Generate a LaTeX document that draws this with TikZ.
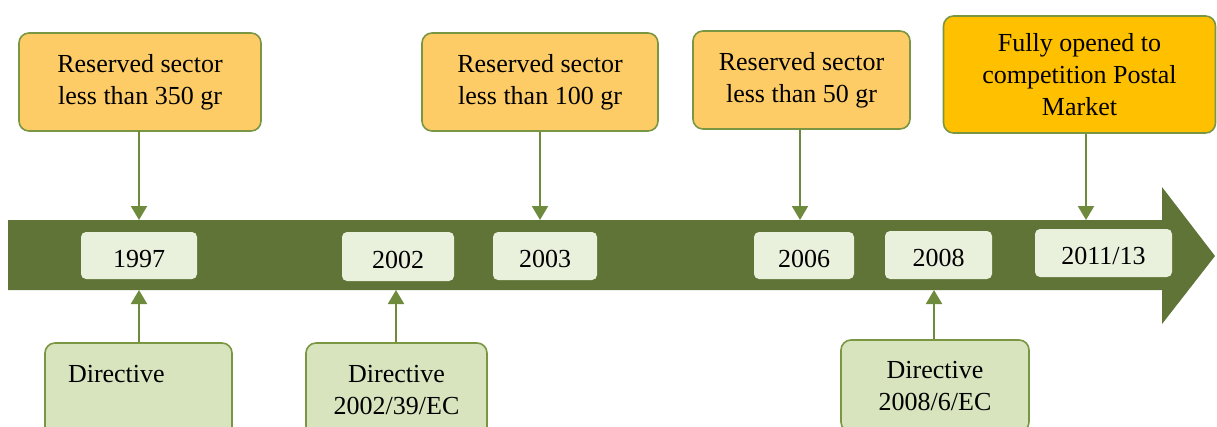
\documentclass[tikz,border=0pt]{standalone}
\usepackage{fontspec}
\setmainfont{Liberation Serif}
\usetikzlibrary{arrows.meta}
\definecolor{barg}{RGB}{95,116,54}
\definecolor{lineg}{RGB}{110,138,60}
\definecolor{edgeg}{RGB}{122,150,66}
\definecolor{orangef}{RGB}{254,204,102}
\definecolor{goldf}{RGB}{255,192,0}
\definecolor{yearf}{RGB}{233,240,220}
\definecolor{dirf}{RGB}{215,228,189}
\tikzset{
  topbox/.style={draw=edgeg, line width=1.6pt, rounded corners=10pt, fill=orangef, align=center, inner sep=0pt, font=\fontsize{26}{32}\selectfont},
  yearbox/.style={fill=yearf, rounded corners=5pt, inner sep=0pt, text height=23pt, text depth=0pt, font=\fontsize{26}{32}\selectfont},
  dirbox/.style={draw=edgeg, line width=1.6pt, rounded corners=10pt, fill=dirf, align=center, inner sep=0pt, font=\fontsize{26}{32}\selectfont},
  conn/.style={draw=lineg, line width=2pt, -{Triangle[length=14pt,width=16pt]}}
}
\begin{document}
\begin{tikzpicture}[x=1pt,y=-1pt]
\useasboundingbox (0,0) rectangle (1217,426);
\clip (0,0) rectangle (1217,426);
% timeline bar
\fill[barg] (8,220) -- (1162,220) -- (1162,187) -- (1215,256) -- (1162,324) -- (1162,290) -- (8,290) -- cycle;
\coordinate (bartop) at (0,220);
\coordinate (barbot) at (0,290);
% year boxes
\node[yearbox, minimum width=116pt, minimum height=47pt] (y1997) at (139,255.5) {1997};
\node[yearbox, minimum width=112pt, minimum height=49pt] (y2002) at (398,256.5) {2002};
\node[yearbox, minimum width=104pt, minimum height=48pt] (y2003) at (545,256) {2003};
\node[yearbox, minimum width=100pt, minimum height=47pt] (y2006) at (804,255.5) {2006};
\node[yearbox, minimum width=107pt, minimum height=48pt] (y2008) at (938.5,255) {2008};
\node[yearbox, minimum width=137pt, minimum height=48pt] (y2011) at (1103.5,253) {2011/13};
% top boxes
\node[topbox, minimum width=242pt, minimum height=98pt] (r350) at (140,82) {Reserved sector\\less than 350 gr};
\node[topbox, minimum width=236pt, minimum height=98pt] (r100) at (540,82) {Reserved sector\\less than 100 gr};
\node[topbox, minimum width=217pt, minimum height=98pt] (r50) at (801.5,80) {Reserved sector\\less than 50 gr};
\node[topbox, fill=goldf, minimum width=272pt, minimum height=117pt] (full) at (1079.5,74.5) {Fully opened to\\competition Postal\\Market};
% bottom boxes
\node[dirbox, minimum width=187pt, minimum height=94pt, text width=141pt, align=left] (d1997) at (138.5,390) {Directive\\\mbox{}};
\node[dirbox, minimum width=181pt, minimum height=94pt] (d2002) at (396.5,390) {Directive\\2002/39/EC};
\node[dirbox, minimum width=188pt, minimum height=92pt] (d2008) at (935,386) {Directive\\2008/6/EC};
% connectors down
\draw[conn] (139,131) coordinate (a1) -- (a1 |- bartop);
\draw[conn] (r100.south) -- (r100.south |- bartop);
\coordinate (a3) at (800,0);
\draw[conn] (a3 |- r50.south) -- (a3 |- bartop);
\coordinate (a4) at (1086,0);
\draw[conn] (a4 |- full.south) -- (a4 |- bartop);
% connectors up
\coordinate (b1) at (139,0);
\draw[conn] (b1 |- d1997.north) -- (b1 |- barbot);
\coordinate (b2) at (396,0);
\draw[conn] (b2 |- d2002.north) -- (b2 |- barbot);
\coordinate (b3) at (934,0);
\draw[conn] (b3 |- d2008.north) -- (b3 |- barbot);
\end{tikzpicture}
\end{document}
